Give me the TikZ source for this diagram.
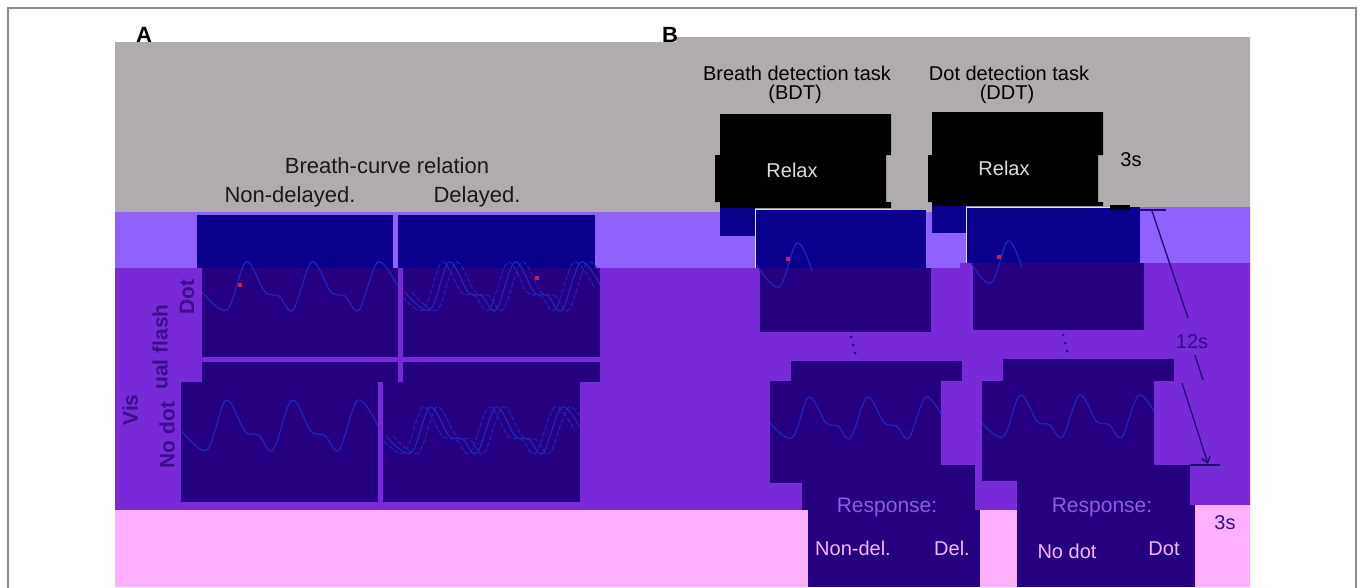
\documentclass[tikz,border=0pt]{standalone}
\usepackage{fontspec}
\setmainfont{Liberation Sans}
\usetikzlibrary{arrows.meta}
\definecolor{bandgray}{HTML}{AFABAE}
\definecolor{bandlight}{HTML}{8F62FE}
\definecolor{bandmid}{HTML}{7829D8}
\definecolor{bandpink}{HTML}{FFB1FF}
\definecolor{navyA}{HTML}{0B008E}
\definecolor{navyB}{HTML}{250080}
\definecolor{curveblue}{HTML}{1E26C0}
\definecolor{dotred}{HTML}{D0204A}
\definecolor{framegray}{HTML}{8A8A8A}
\definecolor{labpurple}{HTML}{3A0F8C}
\definecolor{resppurple}{HTML}{8E5CE8}
\definecolor{resppink}{HTML}{F8B8FF}
\definecolor{relaxgray}{HTML}{DDDDDD}
\definecolor{arrownavy}{HTML}{1E0A78}
\newcommand\breathcurve{plot[smooth,tension=0.55] coordinates {(-25,-18) (0,0) (19,-48) (38,-18) (52,-14) (66,0) (85,-48) (104,-18) (118,-14) (132,0) (151,-48) (171,-23)}}
\tikzset{
  txt/.style={inner sep=0pt, font=\fontsize{20}{24}\selectfont},
  hdr/.style={inner sep=0pt, font=\fontsize{22}{26}\selectfont, text=black!90},
  panellab/.style={inner sep=0pt, font=\bfseries\fontsize{22}{26}\selectfont},
  sidelab/.style={inner sep=0pt, font=\bfseries\fontsize{21}{25}\selectfont, text=labpurple, rotate=90},
  curve/.style={draw=curveblue, line width=1.2pt},
  dcurve/.style={draw=curveblue, line width=1.0pt, dash pattern=on 5pt off 2pt},
  reddot/.style={fill=dotred},
  tickline/.style={draw=arrownavy, line width=1.4pt},
}
\begin{document}
\begin{tikzpicture}[x=1pt,y=-1pt]
\useasboundingbox (0,0) rectangle (1360,587);
\fill[white] (0,0) rectangle (1360,587);
% frame
\draw[framegray, line width=1.5pt] (8,600) -- (8,8) -- (1356,8) -- (1356,600);
% bands
\fill[bandgray] (115,42) -- (676,42) -- (676,37) -- (1250,37) -- (1250,207) -- (960,207) -- (960,212) -- (115,212) -- cycle;
\fill[bandlight] (115,212) -- (960,212) -- (960,207) -- (1250,207) -- (1250,263) -- (960,263) -- (960,268) -- (115,268) -- cycle;
\fill[bandmid] (115,268) -- (960,268) -- (960,263) -- (1250,263) -- (1250,505) -- (1100,505) -- (1100,510) -- (115,510) -- cycle;
\fill[bandpink] (115,510) -- (1100,510) -- (1100,505) -- (1250,505) -- (1250,587) -- (115,587) -- cycle;

% ---------------- Panel A ----------------
\node[panellab] (labA) at (144,35) {A};
\node[hdr] (bcr) at (387,166) {Breath-curve relation};
\node[hdr] (nondel) at (290,197) {Non-delayed.};
\node[hdr] (delay) at (477,197) {Delayed.};
% boxes
\fill[navyA] (197,215) rectangle (393,268);
\fill[navyA] (398,215) rectangle (595,268);
\fill[navyB] (202,268) rectangle (398,357);
\fill[navyB] (403,268) rectangle (600,357);
\fill[navyB] (202,362) rectangle (398,382);
\fill[navyB] (403,362) rectangle (600,382);
\fill[navyB] (181,382) rectangle (378,502);
\fill[navyB] (383,382) rectangle (580,502);
% curves: dot, non-delayed
\begin{scope}
  \clip (202,215) rectangle (398,357);
  \draw[curve, shift={(227,310)}] \breathcurve;
\end{scope}
\fill[reddot] (238,283) rectangle (242,287);
% dot, delayed
\begin{scope}
  \clip (403,215) rectangle (600,357);
  \draw[dcurve, shift={(423,310)}] \breathcurve;
  \draw[curve, shift={(430,310)}] \breathcurve;
  \draw[dcurve, shift={(437,310)}] \breathcurve;
\end{scope}
\fill[reddot] (535,276) rectangle (539,280);
% no dot, non-delayed
\begin{scope}
  \clip (181,382) rectangle (378,502);
  \draw[curve, shift={(207,450)}, yscale=1.04] \breathcurve;
\end{scope}
% no dot, delayed
\begin{scope}
  \clip (383,382) rectangle (580,502);
  \draw[dcurve, shift={(404,453)}, yscale=0.96] \breathcurve;
  \draw[curve, shift={(411,453)}, yscale=0.96] \breathcurve;
  \draw[dcurve, shift={(418,453)}, yscale=0.96] \breathcurve;
\end{scope}
% side labels
\node[sidelab] (ldot) at (187,297) {Dot};
\node[sidelab] (lvisb) at (160,347) {ual flash};
\node[sidelab] (lvisa) at (130,410) {Vis};
\node[sidelab] (lnodot) at (167,435) {No dot};

% ---------------- Panel B ----------------
\node[panellab] (labB) at (670,35) {B};
\node[txt] (bdt) at (797,73) {Breath detection task};
\node[txt] (bdtab) at (795,94) {(BDT)};
\node[txt] (ddt) at (1009,73) {Dot detection task};
\node[txt] (ddtab) at (1007,94) {(DDT)};
% relax screens
\fill[black] (720,114) -- (891,114) -- (891,155) -- (886,155) -- (886,202) -- (891,202) -- (891,208) -- (720,208) -- (720,202) -- (715,202) -- (715,155) -- (720,155) -- cycle;
\fill[navyA] (720,208) rectangle (755,236);
\fill[black] (932,112) -- (1103,112) -- (1103,155) -- (1098,155) -- (1098,202) -- (1103,202) -- (1103,206) -- (932,206) -- (932,202) -- (928,202) -- (928,155) -- (932,155) -- cycle;
\fill[navyA] (932,206) rectangle (966,233);
\node[txt, text=relaxgray] (relax1) at (792,170) {Relax};
\node[txt, text=relaxgray] (relax2) at (1004,168) {Relax};
\node[txt] (t3a) at (1131,160) {3s};
% first trial screens
\fill[navyA] (755,210) rectangle (926,268);
\fill[navyB] (760,268) rectangle (931,332);
\draw[white!75!gray, line width=0.8pt] (755,268) -- (755,209.5) -- (892,209.5);
\fill[navyA] (966,207) rectangle (1140,263);
\fill[navyB] (973,263) rectangle (1144,330);
\draw[white!75!gray, line width=0.8pt] (966,263) -- (966,207.5) -- (1110,207.5);
\fill[black] (1110,205) rectangle (1130,210);
\draw[curve] plot[smooth,tension=0.6] coordinates {(757,265) (779,287) (797,243) (812,271)};
\fill[reddot] (786,257) rectangle (790,261);
\draw[curve] plot[smooth,tension=0.6] coordinates {(971,263) (991,283) (1008,241) (1022,268)};
\fill[reddot] (997,255) rectangle (1001,259);
% ellipsis dots
\foreach \i/\xx/\yy in {1/851/337,2/853/345,3/855/353}{\fill[arrownavy] (\xx,\yy) circle (1.5pt);}
\foreach \i/\xx/\yy in {1/1063/335,2/1065/343,3/1067/351}{\fill[arrownavy] (\xx,\yy) circle (1.5pt);}
% last trial + response screens (BDT)
\fill[navyB] (791,361) rectangle (962,381);
\fill[navyB] (770,381) rectangle (941,483);
\fill[navyB] (802,465) rectangle (975,510);
\fill[navyB] (808,510) rectangle (980,587);
\begin{scope}
  \clip (770,381) rectangle (941,483);
  \draw[curve, shift={(792,438)}, xscale=0.886, yscale=0.854] \breathcurve;
\end{scope}
% last trial + response screens (DDT)
\fill[navyB] (1003,359) rectangle (1174,381);
\fill[navyB] (982,381) rectangle (1154,481);
\fill[navyB] (1017,465) rectangle (1190,505);
\fill[navyB] (1017,505) rectangle (1195,587);
\begin{scope}
  \clip (982,381) rectangle (1154,481);
  \draw[curve, shift={(1003,437)}, xscale=0.9, yscale=0.875] \breathcurve;
\end{scope}
% response texts
\node[txt, text=resppurple, font=\fontsize{21}{25}\selectfont] (resp1) at (887,507) {Response:};
\node[txt, text=resppink] (nd1) at (853,548) {Non-del.};
\node[txt, text=resppink] (d1) at (952,548) {Del.};
\node[txt, text=resppurple, font=\fontsize{21}{25}\selectfont] (resp2) at (1102,507) {Response:};
\node[txt, text=resppink] (nd2) at (1067,551) {No dot};
\node[txt, text=resppink] (d2) at (1164,549) {Dot};
% 12 s timing arrow
\coordinate (tA) at (1140,210);
\coordinate (tB) at (1166,210);
\coordinate (a1) at (1152,211);
\coordinate (a2) at (1188,318);
\coordinate (a3) at (1195,355);
\coordinate (a4) at (1203,380);
\coordinate (a5) at (1182,383);
\coordinate (a6) at (1208,464);
\coordinate (bA) at (1190,465);
\coordinate (bB) at (1220,465);
\draw[tickline] (tA) -- (tB);
\draw[arrownavy, line width=1.3pt] (a1) -- (a2);
\draw[arrownavy, line width=1.3pt] (a3) -- (a4);
\draw[arrownavy, line width=1.3pt, -{Straight Barb[length=6pt,width=9pt]}] (a5) -- (a6);
\draw[tickline] (bA) -- (bB);
\node[txt, text=arrownavy!80!bandmid] (t12) at (1192,342) {12s};
\node[txt, text=arrownavy!80!bandmid] (t3b) at (1225,523) {3s};
\end{tikzpicture}
\end{document}
